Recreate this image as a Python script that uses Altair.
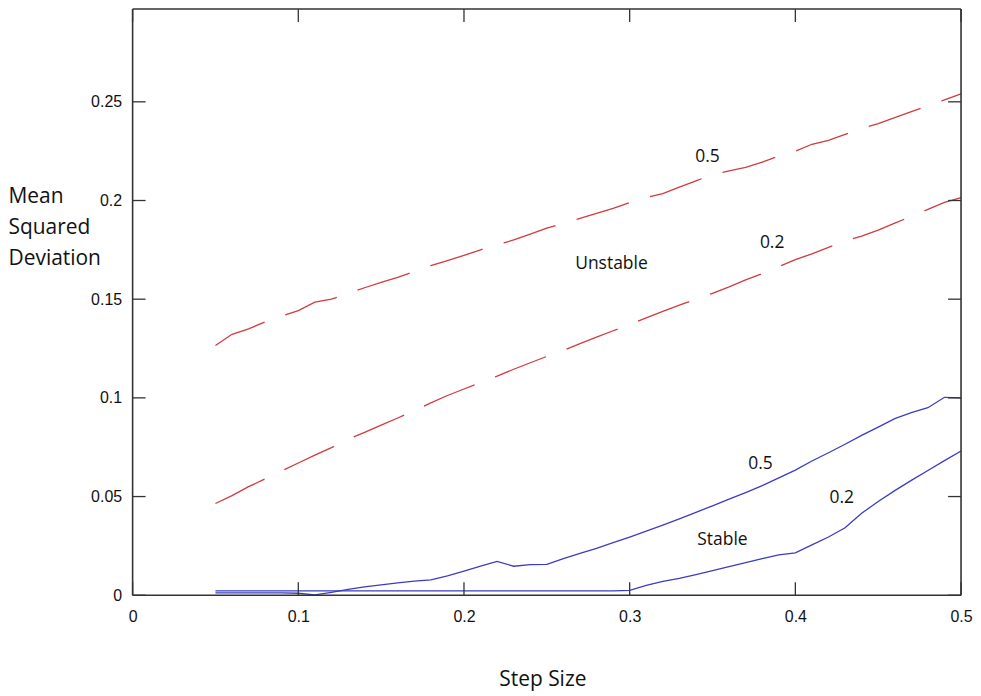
import altair as alt
import pandas as pd

# ---- data ----
step = [0.05, 0.06, 0.07, 0.08, 0.09, 0.10, 0.11, 0.12, 0.13, 0.14,
        0.15, 0.16, 0.17, 0.18, 0.19, 0.20, 0.21, 0.22, 0.23, 0.24,
        0.25, 0.26, 0.27, 0.28, 0.29, 0.30, 0.31, 0.32, 0.33, 0.34,
        0.35, 0.36, 0.37, 0.38, 0.39, 0.40, 0.41, 0.42, 0.43, 0.44,
        0.45, 0.46, 0.47, 0.48, 0.49, 0.50]

unstable_05 = [0.1265, 0.1322, 0.1350, 0.1385, 0.1415, 0.1442, 0.1485, 0.1500, 0.1530, 0.1558,
               0.1585, 0.1610, 0.1640, 0.1670, 0.1695, 0.1722, 0.1750, 0.1775, 0.1800, 0.1830,
               0.1860, 0.1885, 0.1910, 0.1935, 0.1960, 0.1990, 0.2015, 0.2035, 0.2068, 0.2100,
               0.2130, 0.2150, 0.2168, 0.2195, 0.2225, 0.2250, 0.2285, 0.2305, 0.2335, 0.2365,
               0.2390, 0.2420, 0.2450, 0.2480, 0.2510, 0.2540]

unstable_02 = [0.0465, 0.0505, 0.0550, 0.0590, 0.0630, 0.0670, 0.0710, 0.0748, 0.0790, 0.0825,
               0.0862, 0.0898, 0.0935, 0.0975, 0.1012, 0.1045, 0.1078, 0.1110, 0.1145, 0.1178,
               0.1210, 0.1240, 0.1275, 0.1308, 0.1340, 0.1372, 0.1405, 0.1438, 0.1470, 0.1500,
               0.1530, 0.1562, 0.1598, 0.1630, 0.1665, 0.1700, 0.1730, 0.1762, 0.1795, 0.1820,
               0.1850, 0.1885, 0.1920, 0.1955, 0.1990, 0.2015]

stable_05 = [0.0012, 0.0012, 0.0012, 0.0012, 0.0012, 0.0010, 0.0002, 0.0015, 0.0030, 0.0042,
             0.0053, 0.0063, 0.0072, 0.0078, 0.0098, 0.0122, 0.0147, 0.0171, 0.0147, 0.0155,
             0.0156, 0.0185, 0.0212, 0.0238, 0.0266, 0.0295, 0.0325, 0.0355, 0.0387, 0.0420,
             0.0453, 0.0487, 0.0520, 0.0555, 0.0595, 0.0634, 0.0680, 0.0722, 0.0765, 0.0810,
             0.0852, 0.0895, 0.0925, 0.0950, 0.1003, 0.1000]

stable_02 = [0.0022, 0.0022, 0.0022, 0.0022, 0.0022, 0.0022, 0.0022, 0.0022, 0.0022, 0.0022,
             0.0022, 0.0022, 0.0022, 0.0022, 0.0022, 0.0022, 0.0022, 0.0022, 0.0022, 0.0022,
             0.0022, 0.0022, 0.0022, 0.0022, 0.0022, 0.0025, 0.0050, 0.0070, 0.0085, 0.0105,
             0.0125, 0.0145, 0.0165, 0.0185, 0.0205, 0.0215, 0.0255, 0.0295, 0.0342, 0.0415,
             0.0475, 0.0530, 0.0582, 0.0632, 0.0682, 0.0731]

x_ticks = [0, 0.1, 0.2, 0.3, 0.4, 0.5]
y_ticks = [0, 0.05, 0.1, 0.15, 0.2, 0.25]

note_text = ["0.5", "0.2", "Unstable", "0.5", "0.2", "Stable"]
note_x = [0.347, 0.386, 0.289, 0.379, 0.428, 0.356]
note_y = [0.2222, 0.1783, 0.168, 0.0667, 0.0495, 0.0278]

# ---- tables ----
W, H = 831, 588
red_df = pd.DataFrame({
    "x": step * 2,
    "y": unstable_05 + unstable_02,
    "s": ["u05"] * len(step) + ["u02"] * len(step),
})
blue_df = pd.DataFrame({
    "x": step * 2,
    "y": stable_05 + stable_02,
    "s": ["s05"] * len(step) + ["s02"] * len(step),
})
xt_df = pd.DataFrame({"x": x_ticks})
yt_df = pd.DataFrame({"y": y_ticks})
note_df = pd.DataFrame({"t": note_text, "x": note_x, "y": note_y})
one_df = pd.DataFrame({"k": [0]})

xs = alt.Scale(domain=[0, 0.5], nice=False, zero=False)
ys = alt.Scale(domain=[0, 0.297], nice=False, zero=False)

LABEL_FONT = "Liberation Sans"
TEXT_FONT = "Open Sans"

xaxis = alt.Axis(values=x_ticks, format="~g", ticks=False, tickSize=0, domain=False, grid=False,
                 labelFont=LABEL_FONT, labelFontSize=16, labelColor="#111",
                 labelPadding=21, labelBaseline="middle", labelFlush=False,
                 title="Step Size", titleFont=TEXT_FONT, titleFontSize=21,
                 titleFontWeight="normal", titleColor="#111",
                 titleX=411, titleY=85, titleBaseline="middle", titleAlign="center")
yaxis = alt.Axis(values=y_ticks, format="~g", ticks=False, tickSize=0, domain=False, grid=False,
                 labelFont=LABEL_FONT, labelFontSize=16, labelColor="#111",
                 labelPadding=11, labelBaseline="middle", labelFlush=False,
                 title=["Mean", "Squared", "Deviation"], titleFont=TEXT_FONT, titleFontSize=21,
                 titleFontWeight="normal", titleColor="#111", titleAngle=0,
                 titleAlign="left", titleBaseline="top", titleX=-125, titleY=177,
                 titleLineHeight=31)

red = alt.Chart(red_df).mark_line(color="#d23a3f", strokeWidth=1.3, strokeDash=[55, 22]).encode(
    x=alt.X("x:Q", scale=xs, axis=xaxis),
    y=alt.Y("y:Q", scale=ys, axis=yaxis),
    detail="s:N",
)
blue = alt.Chart(blue_df).mark_line(color="#3c3cc2", strokeWidth=1.3).encode(
    x=alt.X("x:Q", scale=xs),
    y=alt.Y("y:Q", scale=ys),
    detail="s:N",
)

tick_col = "#333"
xt_bottom = alt.Chart(xt_df).mark_rule(color=tick_col, strokeWidth=1.3).encode(
    x=alt.X("x:Q", scale=xs), y=alt.value(H), y2=alt.value(H - 13))
xt_top = alt.Chart(xt_df).mark_rule(color=tick_col, strokeWidth=1.3).encode(
    x=alt.X("x:Q", scale=xs), y=alt.value(0), y2=alt.value(13))
yt_left = alt.Chart(yt_df).mark_rule(color=tick_col, strokeWidth=1.3).encode(
    y=alt.Y("y:Q", scale=ys), x=alt.value(0), x2=alt.value(13))
yt_right = alt.Chart(yt_df).mark_rule(color=tick_col, strokeWidth=1.3).encode(
    y=alt.Y("y:Q", scale=ys), x=alt.value(W), x2=alt.value(W - 13))

frame_col = "#333"
f_top = alt.Chart(one_df).mark_rule(color=frame_col, strokeWidth=1.6).encode(
    x=alt.value(0), x2=alt.value(W), y=alt.value(0))
f_bottom = alt.Chart(one_df).mark_rule(color=frame_col, strokeWidth=1.6).encode(
    x=alt.value(0), x2=alt.value(W), y=alt.value(H))
f_left = alt.Chart(one_df).mark_rule(color=frame_col, strokeWidth=1.6).encode(
    y=alt.value(0), y2=alt.value(H), x=alt.value(0))
f_right = alt.Chart(one_df).mark_rule(color=frame_col, strokeWidth=1.6).encode(
    y=alt.value(0), y2=alt.value(H), x=alt.value(W))

notes = alt.Chart(note_df).mark_text(font=TEXT_FONT, fontSize=17.5, color="#111",
                                     align="center", baseline="middle").encode(
    x=alt.X("x:Q", scale=xs), y=alt.Y("y:Q", scale=ys), text="t:N")

chart = alt.layer(red, blue, xt_bottom, xt_top, yt_left, yt_right,
                  f_top, f_bottom, f_left, f_right, notes).properties(
    width=W, height=H,
    autosize=alt.AutoSizeParams(type="none"),
    padding={"left": 125, "top": 0, "right": 12, "bottom": 97},
).configure(background="white", view=alt.ViewConfig(stroke=None))

chart.save("out.html", embed_options={"renderer": "svg", "actions": False})
